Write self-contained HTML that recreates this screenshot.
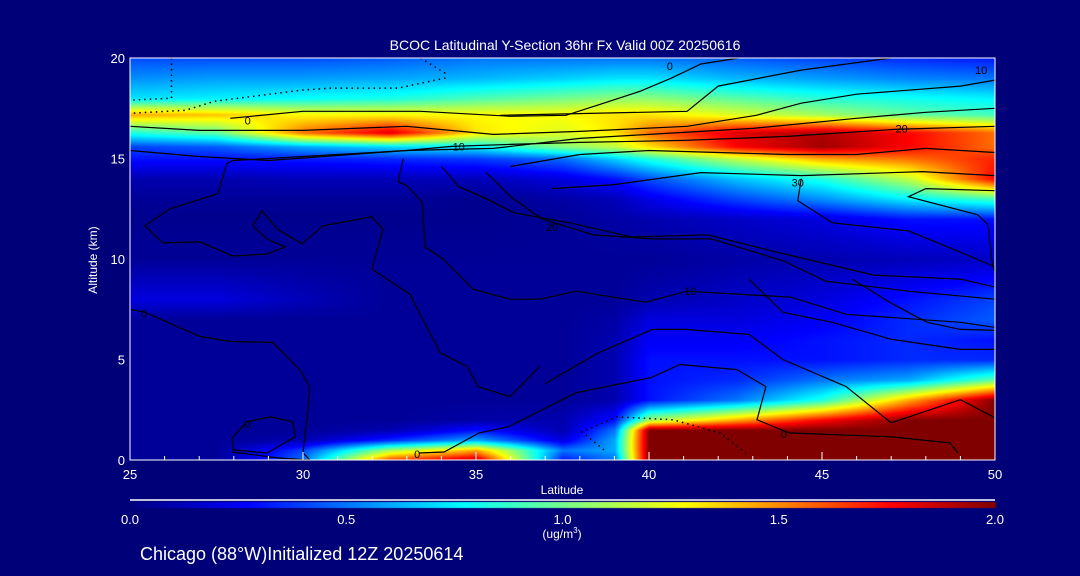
<!DOCTYPE html>
<html><head><meta charset="utf-8"><style>
html,body{margin:0;padding:0;background:#000078;}
#wrap{position:relative;width:1080px;height:576px;overflow:hidden;background:#000078;font-family:"Liberation Sans",sans-serif;color:#fff;}
canvas{position:absolute;left:0;top:0;}
svg{position:absolute;left:0;top:0;}
</style></head><body>
<div id="wrap">
<canvas id="heat" width="1080" height="576"></canvas>
<svg id="svg" width="1080" height="576">
<text x="565" y="50" font-size="14" fill="#fff" text-anchor="middle">BCOC Latitudinal Y-Section 36hr  Fx Valid 00Z 20250616</text>
<text x="562" y="494" font-size="12" fill="#fff" text-anchor="middle">Latitude</text>
<text x="97" y="260" font-size="12" fill="#fff" text-anchor="middle" transform="rotate(-90 97 260)">Altitude (km)</text>
<text x="562" y="538" font-size="12" fill="#fff" text-anchor="middle">(ug/m<tspan font-size="8" dy="-5">3</tspan><tspan dy="5">)</tspan></text>
<text x="140" y="560" font-size="18" fill="#fff">Chicago (88°W)Initialized 12Z 20250614</text>
<g id="contours"></g>
<g id="axes"></g>
<g id="cbar"></g>
</svg>
</div>
<script>
// ---- data ----
const lats = [25,27.5,30,32.5,35,37.5,39,40,42.5,45,47.5,50];
const alts = [0,0.5,1,1.5,2,3,4,5,6,7,8,10,12,13,14,15,15.6,16.3,17.2,18,19,20];
const conc = [
 [0.05,0.05,0.5,1.65,1.9,0.3,0.5,2,2,2,2,2],
 [0.05,0.05,0.4,1.1,1.44,0.5,0.6,2,2,2,2,2],
 [0.05,0.05,0.1,0.35,0.6,0.2,0.6,2,2,2,2,2],
 [0.05,0.05,0.05,0.1,0.3,0.1,0.5,2,2,2,2,2],
 [0.05,0.05,0.05,0.05,0.08,0.1,0.3,1.1,1.44,1.76,2,2],
 [0.05,0.05,0.05,0.05,0.05,0.05,0.1,0.3,0.5,0.83,1.44,2],
 [0.05,0.05,0.05,0.05,0.05,0.05,0.1,0.3,0.35,0.5,0.6,0.96],
 [0.05,0.05,0.05,0.05,0.05,0.05,0.1,0.3,0.3,0.3,0.35,0.35],
 [0.05,0.05,0.05,0.05,0.05,0.05,0.1,0.25,0.25,0.3,0.35,0.3],
 [0.05,0.05,0.05,0.05,0.05,0.05,0.08,0.2,0.2,0.25,0.35,0.45],
 [0.2,0.2,0.12,0.05,0.05,0.05,0.05,0.1,0.15,0.2,0.3,0.4],
 [0.05,0.05,0.05,0.05,0.05,0.05,0.05,0.05,0.08,0.1,0.12,0.15],
 [0.03,0.03,0.03,0.03,0.03,0.05,0.08,0.1,0.15,0.2,0.3,0.3],
 [0.05,0.05,0.05,0.05,0.03,0.08,0.12,0.22,0.4,0.55,0.75,0.9],
 [0.1,0.1,0.12,0.12,0.12,0.2,0.3,0.42,0.65,0.83,1.15,1.76],
 [0.3,0.3,0.32,0.35,0.38,0.48,0.68,0.83,1.15,1.44,1.55,1.7],
 [0.4,0.45,0.6,0.7,0.75,1.03,1.15,1.33,1.76,1.94,1.76,1.55],
 [0.83,0.96,1.55,1.82,1.33,1.21,1.33,1.55,1.82,1.91,1.76,1.55],
 [1.44,1.39,1.28,1.28,1.28,1.28,1.33,1.33,1.21,1.09,0.96,0.9],
 [0.72,0.75,0.78,0.82,0.92,1.0,1.05,1.05,0.95,0.85,0.8,0.75],
 [0.55,0.58,0.58,0.6,0.63,0.68,0.72,0.72,0.63,0.58,0.53,0.5],
 [0.42,0.42,0.42,0.45,0.5,0.5,0.5,0.5,0.45,0.4,0.35,0.32]
];
const xTicks = [25,30,35,40,45,50];
const yTicks = [0,5,10,15,20];
const cbTicks = ["0.0","0.5","1.0","1.5","2.0"];
const cbValues = [0,0.5,1,1.5,2];
const contourSolid = [
 [[27.9,17.0],[30,17.35],[33.4,17.35],[36,17.1],[37.6,17.15],[38.6,17.7],[39.75,18.35],[40.65,19.0],[41.5,19.7],[42.6,20]],
 [[35.7,17.15],[41.1,17.35],[42,18.6],[44.4,19.4],[47,20]],
 [[25,16.6],[27,16.4],[30,16.4],[33,16.6],[35.5,16.2],[38,16.35],[41.1,16.6],[43.1,17.15],[44.4,17.75],[46,18.2],[49,18.6],[50,18.9]],
 [[25,15.4],[27,15.1],[29,14.9],[33,15.4],[35.5,15.5],[38,16.0],[40,16.2],[43,16.5],[46,17.0],[48,17.3],[50,17.5]],
 [[36.85,4.65],[35.98,3.15],[35.06,3.65],[34.74,4.65],[33.96,5.35],[33.09,8.25],[31.99,9.5],[32.31,11.5],[31.99,12.1],[30.58,11.65],[29.97,10.75],[29.25,11.5],[28.82,12.4],[28.55,11.65],[28.96,11.0],[29.48,10.6],[28.96,10.25],[27.98,10.15],[27.02,10.85],[25.95,10.8],[25.43,11.65],[26.16,12.5],[27.54,13.25],[27.8,14.75],[27.98,14.9],[30,15.1],[33,15.4],[34.3,15.6],[36,15.7],[38,15.8],[41,15.9],[44,16.1],[47.1,16.45],[50,16.6]],
 [[36,14.6],[38,15.2],[40,15.4],[42,15.3],[44,15.2],[46,15.2],[48,15.5],[50,15.3]],
 [[37.2,13.5],[39.0,13.7],[41.5,14.3],[44.4,14.15],[47.9,14.35],[50,14.15]],
 [[44.4,14.0],[44.3,12.9],[45.3,11.8],[47.5,11.4],[49.2,10.2],[50,9.6]],
 [[50,13.4],[48,13.5],[47.5,13.1],[49.5,12.2],[49.8,11.7],[49.9,10.0],[50,9.3]],
 [[32.9,15.0],[32.75,13.85],[33.0,13.65],[33.44,12.85],[33.53,10.6],[34.05,10.0],[34.91,8.5],[35.98,8.0],[36.85,8.0],[37.9,8.4],[39.9,7.85],[41.1,8.4],[44.1,8.1],[45.7,7.25],[49,6.85],[50,6.6]],
 [[35.3,14.3],[36.0,13.1],[36.9,12.0],[38.4,11.2],[40.1,11.0],[41.8,11.0],[43.9,9.9],[45.1,8.9],[47.5,8.4],[50,8.0]],
 [[34.0,14.6],[34.5,13.6],[35.3,13.0],[36.1,12.3],[37.7,11.8],[39.5,11.1],[41.7,11.2],[43.8,10.3],[46.5,9.2],[49,9.0],[50,8.6]],
 [[25,7.5],[25.43,7.35],[27.02,6.15],[27.89,5.9],[29.13,5.85],[29.91,4.5],[30.2,3.6],[30.12,2.15],[30.0,0.35],[30.2,0]],
 [[27.95,1.1],[28.38,1.9],[29.05,2.15],[29.71,1.9],[29.77,1.15],[28.96,0.35],[27.98,0.5],[27.95,1.1]],
 [[27.95,0.4],[29.3,0.1],[30.2,0]],
 [[33.35,0.35],[34.08,0.4],[35.09,1.35],[35.93,1.65],[37.89,3.35],[40.06,4.1],[40.9,4.75],[42.54,4.5],[43.38,3.65],[43.12,2.0],[44.05,1.35],[47.02,1.15],[48.7,0.85],[48.93,0.35]],
 [[42.89,9.0],[43.87,7.35],[45.29,6.85],[47.02,6.0],[49.0,5.5],[50,5.5]],
 [[45.87,9.0],[47.0,7.8],[48.04,6.85],[49,6.5],[50,6.45]],
 [[37.0,3.8],[38.5,5.3],[40.1,6.5],[41.07,6.5],[42.89,6.25],[43.87,5.0],[45.7,3.65],[47.0,1.85],[49.0,3.0],[50,2.1]]
];
const contourDotted = [
 [[26.2,20],[26.2,18],[25,17.9]],
 [[33.4,20],[34.1,19.25],[34.1,19.0],[32.75,18.5],[30.8,18.5],[29.95,18.4],[27.45,17.85],[26.6,17.4],[25,17.25]],
 [[38.7,0.5],[38.06,1.4],[39.07,2.15],[40.7,2.0],[42.05,1.35],[42.8,0.35]]
];
const labelText = ["0","10","0","10","20","30","20","10","0","0","0","0"];
const labelLat = [40.6,49.6,28.4,34.5,47.3,44.3,37.2,41.2,25.4,28.4,33.3,43.9];
const labelAlt = [19.6,19.4,16.9,15.6,16.5,13.8,11.6,8.4,7.3,1.8,0.3,1.3];

// ---- axes ----
const X0=130,X1=995,Y0=460,Y1=58;
const xs = v => X0+(v-25)/(50-25)*(X1-X0);
const ys = v => Y0-(v/20)*(Y0-Y1);
const cbx = v => X0+(v/2)*(X1-X0);

const stops=[[0,[0,0,128]],[0.27,[0,0,255]],[0.77,[0,255,255]],[1.02,[128,255,128]],[1.28,[255,255,0]],[1.76,[255,0,0]],[2.0,[128,0,0]]];
function cmap(v){v=Math.max(0,Math.min(2,v));for(let i=1;i<stops.length;i++){if(v<=stops[i][0]){const a=stops[i-1],b=stops[i],t=(v-a[0])/(b[0]-a[0]);return a[1].map((c,k)=>Math.round(c+(b[1][k]-c)*t));}}return stops[stops.length-1][1];}
function idx(arr,v){for(let i=1;i<arr.length;i++){if(v<=arr[i])return [i-1,(v-arr[i-1])/(arr[i]-arr[i-1])];}return [arr.length-2,1];}
function val(lat,alt){const [i,t]=idx(lats,lat),[j,u]=idx(alts,alt);
 const a=conc[j][i],b=conc[j][i+1],c=conc[j+1][i],d=conc[j+1][i+1];
 return (a*(1-t)+b*t)*(1-u)+(c*(1-t)+d*t)*u;}

const ctx=document.getElementById('heat').getContext('2d');
const img=ctx.createImageData(X1-X0,Y0-Y1);
for(let py=0;py<Y0-Y1;py++){const alt=20-py/(Y0-Y1)*20;
 for(let px=0;px<X1-X0;px++){const lat=25+px/(X1-X0)*25;const c=cmap(val(lat,alt));const o=(py*(X1-X0)+px)*4;img.data[o]=c[0];img.data[o+1]=c[1];img.data[o+2]=c[2];img.data[o+3]=255;}}
ctx.putImageData(img,X0,Y1);
for(let px=0;px<=X1-X0;px++){const c=cmap(px/(X1-X0)*2);ctx.fillStyle=`rgb(${c[0]},${c[1]},${c[2]})`;ctx.fillRect(X0+px,502,1,6);}

const NS='http://www.w3.org/2000/svg';
function mk(tag,attrs,parent){const e=document.createElementNS(NS,tag);for(const k in attrs)e.setAttribute(k,attrs[k]);parent.appendChild(e);return e;}
const cg=document.getElementById('contours');
contourSolid.forEach((line,i)=>{
 const p=mk('polyline',{points:line.map(q=>xs(q[0]).toFixed(1)+','+ys(q[1]).toFixed(1)).join(' '),fill:'none',stroke:'#000','stroke-width':1.2},cg);
 
 
});
contourDotted.forEach(line=>{
 const p=mk('polyline',{points:line.map(q=>xs(q[0]).toFixed(1)+','+ys(q[1]).toFixed(1)).join(' '),fill:'none',stroke:'#000','stroke-width':1.5,'stroke-dasharray':'1.5,4'},cg);
 
 
});
labelText.forEach((t,i)=>{
 const e=mk('text',{x:xs(labelLat[i]),y:ys(labelAlt[i])+4,'font-size':11,fill:'#000','text-anchor':'middle'},cg);
 e.textContent=t;
 
 
});
const ag=document.getElementById('axes');
const box=mk('rect',{x:X0,y:Y1,width:X1-X0,height:Y0-Y1,fill:'none',stroke:'#fff','stroke-width':1},ag);


for(let v=25;v<=50;v++){const t=mk('line',{x1:xs(v),x2:xs(v),y1:Y0,y2:Y0-(v%5===0?8:4),stroke:'#fff'},ag);
 
 }
xTicks.forEach(v=>{const e=mk('text',{x:xs(v),y:479,'font-size':13,fill:'#fff','text-anchor':'middle'},ag);e.textContent=v;
 
 });
yTicks.forEach(v=>{const e=mk('text',{x:125,y:ys(v)+5,'font-size':13,fill:'#fff','text-anchor':'end'},ag);e.textContent=v;
 
 });
const cb=document.getElementById('cbar');
const cl=mk('line',{x1:X0,x2:X1,y1:500,y2:500,stroke:'#fff','stroke-width':1.5},cb);


cbTicks.forEach((t,i)=>{const e=mk('text',{x:cbx(cbValues[i]),y:524,'font-size':13,fill:'#fff','text-anchor':'middle'},cb);e.textContent=t;
 
 });
</script>
</body></html>
